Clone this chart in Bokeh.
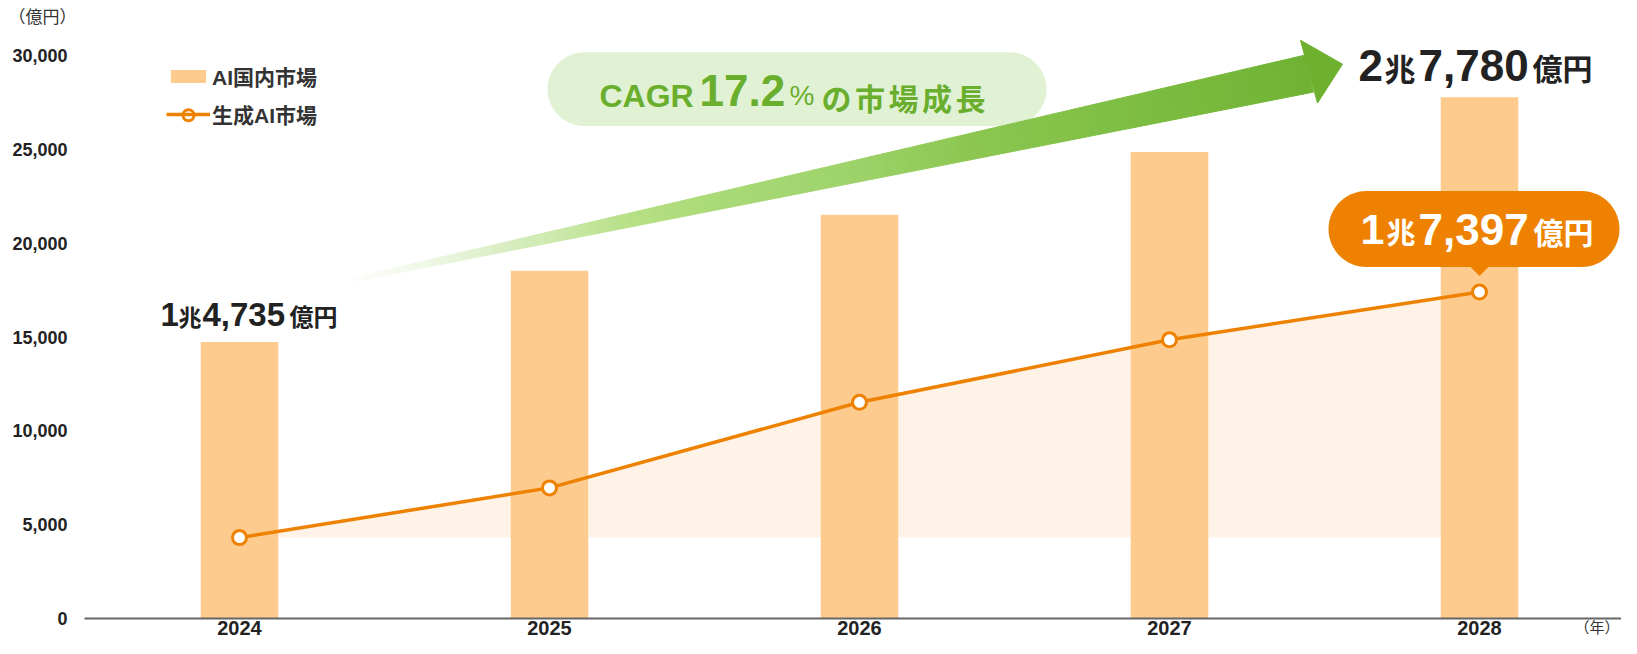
import numpy as np
from bokeh.plotting import figure
from bokeh.models import Range1d, FixedTicker, NumeralTickFormatter, Legend, LegendItem
from bokeh.core.properties import value
from bokeh.embed import file_html
from bokeh.resources import INLINE

# ---------------- data ----------------
years = [2024, 2025, 2026, 2027, 2028]
year_labels = ["2024", "2025", "2026", "2027", "2028"]
ai_market = [14735, 18530, 21510, 24860, 27780]          # AI国内市場 (億円)
gen_ai_market = [4310, 6960, 11520, 14850, 17397]        # 生成AI市場 (億円)
y_ticks = [0, 5000, 10000, 15000, 20000, 25000, 30000]
legend_labels = ["AI国内市場", "生成AI市場"]
cagr_parts = ["CAGR", "17.2", "%"]
cagr_tail = ["の", "市", "場", "成", "長"]
start_label = ["1", "兆", "4,735", "億円"]
end_label = ["2", "兆", "7,780", "億円"]
gen_end_label = ["1", "兆", "7,397", "億円"]
unit_y = "（億円）"
unit_x = "（年）"

# ---------------- layout ----------------
W, H = 1621, 638
PPX = 310.0                      # pixels per year
X_FIRST_PX = 239.0               # pixel of first category
XS = years[0] - X_FIRST_PX / PPX
XE = XS + W / PPX
Y0_PX = 618.0                    # pixel of value 0
DPU = (618.0 - 55.0) / 30000.0   # pixels per unit
YE = Y0_PX / DPU
YS = -(H - Y0_PX) / DPU

LAT = "Liberation Sans"
CJK = "Noto Sans CJK JP"
MIX = "Liberation Sans, Noto Sans CJK JP"

BAR = "#fecb8f"
ORANGE = "#ee8200"
AREA = "#fef3e6"
GREEN_TXT = "#6aae2e"
PILL_GREEN = "#e1f2d4"
DARK = "#222222"


# canvas pixel <-> data
def dx(px):
    return XS + px / PPX


def dy(py):
    return (Y0_PX - py) / DPU


def sx(x):
    return (x - XS) * PPX


def sy(y):
    return Y0_PX - y * DPU


# reference-picture pixel -> canvas pixel (vertical scale of the original)
def ry(py):
    return sy((622.7 - py) / 0.018813)


def rounded_rect(x0, y0, x1, y1, r, n=16):
    pts = []
    corners = [(x1 - r, y0 + r, -90, 0), (x1 - r, y1 - r, 0, 90),
               (x0 + r, y1 - r, 90, 180), (x0 + r, y0 + r, 180, 270)]
    for cx, cy, a0, a1 in corners:
        for a in np.linspace(np.radians(a0), np.radians(a1), n):
            pts.append((cx + r * np.cos(a), cy + r * np.sin(a)))
    return [dx(p[0]) for p in pts], [dy(p[1]) for p in pts]


def hex2rgb(h):
    h = h.lstrip("#")
    return [int(h[i:i + 2], 16) for i in (0, 2, 4)]


def interp_color(t, stops):
    for (t0, c0), (t1, c1) in zip(stops[:-1], stops[1:]):
        if t0 <= t <= t1:
            f = (t - t0) / (t1 - t0) if t1 > t0 else 0
            a, b = hex2rgb(c0), hex2rgb(c1)
            return "#%02x%02x%02x" % tuple(int(round(a[i] + (b[i] - a[i]) * f)) for i in range(3))
    return stops[-1][1]


def put_text(t, x_px, y_px, size, color, font, style="bold", align="left"):
    p.text(x=[dx(x_px)], y=[dy(y_px)], text=[t], text_font=value(font), text_font_size=value(size),
           text_font_style=style, text_color=color, text_baseline="middle", text_align=align)


p = figure(width=W, height=H, x_range=Range1d(XS, XE), y_range=Range1d(YS, YE),
           output_backend="svg", toolbar_location=None,
           min_border_left=0, min_border_right=0, min_border_top=0, min_border_bottom=0,
           outline_line_color=None, background_fill_color="white", border_fill_color="white")
p.grid.visible = False

# axes (drawn at fixed data locations inside the canvas)
xax = p.xaxis[0]
xax.fixed_location = 0
xax.bounds = (years[0] - 0.5, years[-1] + 0.5)
xax.ticker = FixedTicker(ticks=years)
xax.major_label_overrides = {y: l for y, l in zip(years, year_labels)}
xax.major_tick_line_color = None
xax.minor_tick_line_color = None
xax.major_tick_out = 0
xax.major_tick_in = 0
xax.axis_line_color = "#666666"
xax.axis_line_width = 2
xax.major_label_text_font = LAT
xax.major_label_text_font_style = "bold"
xax.major_label_text_font_size = "20px"
xax.major_label_text_color = DARK
xax.major_label_standoff = 2

yax = p.yaxis[0]
yax.fixed_location = years[0] - 0.5
yax.ticker = FixedTicker(ticks=y_ticks)
yax.formatter = NumeralTickFormatter(format="0,0")
yax.axis_line_color = None
yax.major_tick_line_color = None
yax.minor_tick_line_color = None
yax.major_tick_out = 0
yax.major_tick_in = 0
yax.major_label_standoff = 17
yax.major_label_text_font = LAT
yax.major_label_text_font_style = "bold"
yax.major_label_text_font_size = "18px"
yax.major_label_text_color = DARK

# shaded growth area under the generative-AI line
p.varea(x=years, y1=[gen_ai_market[0]] * len(years), y2=gen_ai_market, fill_color=AREA)

# bars
bars = p.vbar(x=years, top=ai_market, width=0.25, fill_color=BAR, line_color=None)

# CAGR pill
pxs, pys = rounded_rect(547, ry(55), 1046, ry(129), 37)
p.patch(pxs, pys, fill_color=PILL_GREEN, line_color=None)

# gradient arrow
tail_u, tail_l = (353, ry(281)), (353, ry(285))
base_u, base_l = (1304, ry(58)), (1313, ry(95))
stops = [(0.0, "#fdfefb"), (0.07, "#f1f8e8"), (0.15, "#dbefc7"), (0.22, "#c9e8a8"),
         (0.29, "#b6e085"), (0.365, "#acdb79"), (0.52, "#9ed36a"), (0.64, "#8dc752"),
         (0.785, "#80bf45"), (1.0, "#70b334")]
N = 90
ts = np.linspace(0, 1, N + 1)
axs, ays, cols = [], [], []
for i in range(N):
    t0, t1 = ts[i], ts[i + 1]
    u0 = (tail_u[0] + (base_u[0] - tail_u[0]) * t0, tail_u[1] + (base_u[1] - tail_u[1]) * t0)
    u1 = (tail_u[0] + (base_u[0] - tail_u[0]) * t1, tail_u[1] + (base_u[1] - tail_u[1]) * t1)
    l0 = (tail_l[0] + (base_l[0] - tail_l[0]) * t0, tail_l[1] + (base_l[1] - tail_l[1]) * t0)
    l1 = (tail_l[0] + (base_l[0] - tail_l[0]) * t1, tail_l[1] + (base_l[1] - tail_l[1]) * t1)
    quad = [u0, u1, l1, l0]
    axs.append([dx(q[0]) for q in quad])
    ays.append([dy(q[1]) for q in quad])
    cols.append(interp_color((t0 + t1) / 2, stops))
p.patches(axs, ays, fill_color=cols, line_color=cols, line_width=1)
head = [(1300, ry(43)), (1342, ry(67)), (1317, ry(106))]
p.patch([dx(h[0]) for h in head], [dy(h[1]) for h in head],
        fill_color="#6db12f", line_color="#6db12f", line_width=1)

# CAGR text (vertical centres)
cagr_x = [599, 699, 789]
cagr_y = [ry(99), ry(93.5), ry(98)]
cagr_sz = ["32px", "44px", "28px"]
cagr_st = ["bold", "bold", "normal"]
for t, x, yy, s, st in zip(cagr_parts, cagr_x, cagr_y, cagr_sz, cagr_st):
    put_text(t, x, yy, s, GREEN_TXT, LAT, st)
for i, ch in enumerate(cagr_tail):
    put_text(ch, 821 + 33.5 * i, ry(99.5), "30px", GREEN_TXT, CJK)

# generative AI line + markers
line_r = p.line(years, gen_ai_market, line_color=ORANGE, line_width=3.5)
pts_r = p.scatter(years, gen_ai_market, size=14, marker="circle", fill_color="white",
                  line_color=ORANGE, line_width=3)

# callout for the last generative AI value
lx, ly = sx(years[-1]), sy(gen_ai_market[-1])
cxs, cys = rounded_rect(lx - 151, ly - 101, lx + 140, ly - 25, 38)
p.patch(cxs, cys, fill_color=ORANGE, line_color=None)
tri = [(lx - 10, ly - 26), (lx + 10, ly - 26), (lx, ly - 16)]
p.patch([dx(q[0]) for q in tri], [dy(q[1]) for q in tri], fill_color=ORANGE, line_color=None)


def multi_text(parts, anchor_x, anchor_y, x_offsets, y_offsets, sizes, color):
    for t, ox, oy, s in zip(parts, x_offsets, y_offsets, sizes):
        latin = not any(ord(c) > 0x3000 for c in t)
        put_text(t, anchor_x + ox, anchor_y + oy, s, color, LAT if latin else CJK)


multi_text(gen_end_label, lx, ly, [-119, -93, -61, 54], [-63, -61, -63, -61],
           ["43px", "29px", "44px", "30px"], "white")

# value labels on first and last bar
bx0, by0 = sx(years[0]), sy(ai_market[0])
multi_text(start_label, bx0, by0, [-79, -61, -37, 50], [-27.5, -26, -27.5, -26],
           ["33px", "23px", "33px", "24px"], DARK)
bx1, by1 = sx(years[-1]), sy(ai_market[-1])
multi_text(end_label, bx1, by1, [-121, -95, -61, 53], [-32, -30, -32, -30],
           ["44px", "31px", "44px", "30px"], DARK)

# legend (native legend; the series marker is re-drawn larger on top of its line sample)
LEG_X, LEG_BOTTOM, LEG_GW = 166, 129, 44
legend = Legend(items=[LegendItem(label=legend_labels[0], renderers=[bars]),
                       LegendItem(label=legend_labels[1], renderers=[line_r])],
                location=(LEG_X, H - LEG_BOTTOM),
                orientation="vertical", glyph_width=LEG_GW, glyph_height=16, label_height=24,
                spacing=8, padding=0, margin=0, label_standoff=2,
                border_line_color=None, background_fill_alpha=0,
                label_text_font=MIX, label_text_font_style="bold", label_text_font_size="21px",
                label_text_color="#333333")
p.add_layout(legend, "center")
p.scatter(x=[dx(LEG_X + LEG_GW / 2)], y=[dy(LEG_BOTTOM - 14.3)], size=11, marker="circle",
          fill_color="white", line_color=ORANGE, line_width=3, level="overlay")

# unit labels
put_text(unit_y, 8, ry(18), "17px", "#333333", CJK, "normal")
put_text(unit_x, W - 2, 626, "15px", "#333333", CJK, "normal", align="right")

open("out.html", "w").write(file_html(p, INLINE))
